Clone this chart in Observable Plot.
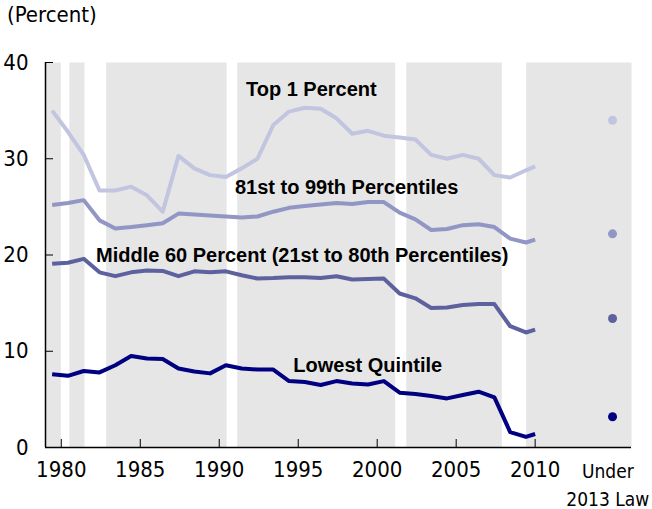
<!DOCTYPE html>
<html>
<head>
<meta charset="utf-8">
<script src="https://cdn.jsdelivr.net/npm/d3@7"></script>
<script src="https://cdn.jsdelivr.net/npm/@observablehq/plot@0.6"></script>
<style>
  body { margin: 0; background: #fff; }
  #unit { height: 28px; padding: 2px 0 0 7px; box-sizing: border-box; line-height: 26px;
          font: 22px "Liberation Sans Narrow", "Arial Narrow", "DejaVu Sans Condensed", sans-serif; color: #000; }
</style>
</head>
<body>
<div id="unit">(Percent)</div>
<div id="chart"></div>
<script>
// ---- data ----
const years = [1979, 1980, 1981, 1982, 1983, 1984, 1985, 1986, 1987, 1988, 1989, 1990,
               1991, 1992, 1993, 1994, 1995, 1996, 1997, 1998, 1999, 2000,
               2001, 2002, 2003, 2004, 2005, 2006, 2007, 2008, 2009, 2010];

const groups = ["Top 1 Percent", "81st to 99th Percentiles",
                "Middle 60 Percent (21st to 80th Percentiles)", "Lowest Quintile"];

const top1 = [35.0, 32.8, 30.4, 26.7, 26.7, 27.1, 26.2, 24.5, 30.3, 29.0, 28.3, 28.1,
              29.0, 30.0, 33.5, 34.9, 35.3, 35.2, 34.2, 32.6, 32.9, 32.4,
              32.2, 32.0, 30.4, 30.0, 30.4, 30.0, 28.3, 28.05, 28.8, 29.2];
const p81to99 = [25.2, 25.4, 25.7, 23.6, 22.75, 22.9, 23.1, 23.3, 24.3, 24.2, 24.1, 24.0,
                 23.9, 24.0, 24.5, 24.9, 25.1, 25.25, 25.4, 25.3, 25.5, 25.5,
                 24.4, 23.7, 22.6, 22.7, 23.1, 23.2, 22.9, 21.7, 21.3, 21.6];
const middle60 = [19.1, 19.2, 19.6, 18.2, 17.8, 18.2, 18.4, 18.35, 17.8, 18.3, 18.2, 18.3,
                  17.9, 17.55, 17.6, 17.7, 17.7, 17.6, 17.8, 17.45, 17.5, 17.55,
                  16.0, 15.5, 14.5, 14.55, 14.8, 14.9, 14.9, 12.6, 11.95, 12.25];
const lowest = [7.6, 7.45, 7.95, 7.8, 8.55, 9.5, 9.25, 9.2, 8.2, 7.9, 7.7, 8.55,
                8.2, 8.1, 8.1, 6.9, 6.8, 6.5, 6.9, 6.65, 6.55, 6.9,
                5.7, 5.55, 5.35, 5.1, 5.45, 5.8, 5.2, 1.6, 1.1, 1.4];

const under2013Law = [34.0, 22.2, 13.4, 3.2];

// recession periods (white gaps in the shading), fractional years
const recessionStart = [1980.0, 1981.5, 1990.5, 2001.17, 2007.92];
const recessionEnd   = [1980.54, 1982.87, 1991.17, 2001.87, 2009.46];

const xTicks = [1980, 1985, 1990, 1995, 2000, 2005, 2010];
const yTicks = [0, 10, 20, 30, 40];
const underLabel = "Under\n2013 Law";

// ---- presentation settings ----
const colors = ["#c2c5df", "#9296c4", "#5d629f", "#000080"];
const xDomain = [1979, 2016.1];
const underLawX = 2014.9;     // position of the "Under 2013 Law" dots
const underLabelX = 2014.6;   // centre of the "Under 2013 Law" label
const pointOffset = 0.42;     // source plots annual values a bit after each year tick
const labelX = [1991.69, 1990.99, 1982.2, 1994.69];
const labelY = [37.2, 27.0, 19.93, 8.55];

const narrow = '"Liberation Sans Narrow", "Arial Narrow", "DejaVu Sans Condensed", sans-serif';

// ---- build tables ----
const seriesVals = [top1, p81to99, middle60, lowest];
const rows = [];
seriesVals.forEach((vals, i) => vals.forEach((v, j) => rows.push({group: groups[i], year: years[j], value: v})));
const dots = groups.map((g, i) => ({group: g, value: under2013Law[i]}));
const recessions = recessionStart.map((s, i) => ({start: s, end: recessionEnd[i]}));
const labels = groups.map((g, i) => ({label: g, x: labelX[i], y: labelY[i]}));

const chart = Plot.plot({
  width: 652,
  height: 481,
  marginTop: 34,
  marginBottom: 62,
  marginLeft: 45,
  marginRight: 21,
  style: {fontFamily: narrow, fontSize: "22px", color: "#000", background: "#fff", overflow: "visible"},
  x: {domain: xDomain, axis: null},
  y: {domain: [0, 40], axis: null},
  color: {domain: groups, range: colors},
  marks: [
    Plot.frame({fill: "#e6e6e6", stroke: null}),
    Plot.rect(recessions, {x1: "start", x2: "end", y1: 0, y2: 40, fill: "#ffffff"}),
    Plot.line(rows, {
      x: d => Math.min(d.year + pointOffset, years[years.length - 1]),
      y: "value", z: "group", stroke: "group",
      strokeWidth: 4, strokeLinejoin: "round", strokeLinecap: "butt"
    }),
    Plot.dot(dots, {x: () => underLawX, y: "value", fill: "group", r: 4.5, stroke: null}),
    Plot.text(labels, {
      x: "x", y: "y", text: "label", textAnchor: "start",
      fontFamily: '"Liberation Sans", Arial, sans-serif', fontWeight: "bold", fontSize: 20, fill: "#000"
    }),
    Plot.ruleX([xDomain[0]], {stroke: "#000", strokeWidth: 1.5}),
    Plot.ruleY([0], {stroke: "#000", strokeWidth: 1.5}),
    Plot.axisY({ticks: yTicks, tickSize: -8, tickFormat: () => "", label: null, stroke: "#000"}),
    Plot.axisY({ticks: yTicks, tickSize: 0, tickPadding: 17, tickFormat: "d", label: null, fontSize: 22}),
    Plot.axisX({ticks: xTicks, tickSize: -8, tickFormat: () => "", label: null, stroke: "#000"}),
    Plot.axisX({ticks: xTicks, tickSize: 0, tickPadding: 14, tickFormat: "d", label: null, fontSize: 22}),
    Plot.text([underLabel], {
      x: () => underLabelX, frameAnchor: "bottom", lineAnchor: "top", dy: 11,
      text: d => d, lineHeight: 1.45, fontSize: 19, fill: "#000"
    })
  ]
});
document.getElementById("chart").appendChild(chart);
</script>
</body>
</html>
